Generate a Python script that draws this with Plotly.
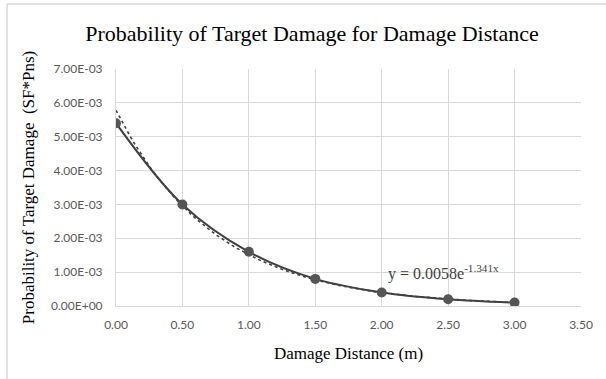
import numpy as np
import plotly.graph_objects as go

distance = [0.0, 0.5, 1.0, 1.5, 2.0, 2.5, 3.0]
probability = [5.4e-3, 3.0e-3, 1.6e-3, 8.0e-4, 4.0e-4, 2.0e-4, 1.0e-4]

y_tickvals = [0, 1e-3, 2e-3, 3e-3, 4e-3, 5e-3, 6e-3, 7e-3]
y_ticktext = ["0.00E+00", "1.00E-03", "2.00E-03", "3.00E-03", "4.00E-03",
              "5.00E-03", "6.00E-03", "7.00E-03"]
x_tickvals = [0, 0.5, 1.0, 1.5, 2.0, 2.5, 3.0, 3.5]
x_ticktext = ["0.00", "0.50", "1.00", "1.50", "2.00", "2.50", "3.00", "3.50"]

# exponential trendline fitted to the data (Excel-style)
slope, intercept = np.polyfit(distance, np.log(probability), 1)
trend_x = np.linspace(min(distance), max(distance), 80)
trend_y = np.exp(intercept) * np.exp(slope * trend_x)

W, H = 606, 379
L, R, T, B = 116, 25, 69, 73
pw, ph = W - L - R, H - T - B

def px(x):
    return (x - L) / pw

def py(y):
    return (H - B - y) / ph

fig = go.Figure()
fig.add_trace(go.Scatter(x=trend_x, y=trend_y, mode="lines",
                         line=dict(color="#404040", width=1.6, dash="dot"),
                         showlegend=False, hoverinfo="skip"))
fig.add_trace(go.Scatter(x=distance, y=probability, mode="lines+markers",
                         line=dict(color="#404040", width=2, shape="spline"),
                         marker=dict(color="#555555", size=10),
                         showlegend=False))

fig.add_annotation(x=2.03, y=0.00098, xref="x", yref="y", xanchor="left",
                   yanchor="middle", showarrow=False,
                   text="y = 0.0058e<sup>-1.341x</sup>",
                   font=dict(family="Liberation Serif", size=16, color="#404040"))

fig.update_layout(
    width=W, height=H,
    margin=dict(l=L, r=R, t=T, b=B, autoexpand=False),
    paper_bgcolor="white", plot_bgcolor="white",
    title=dict(text="Probability of Target Damage for Damage Distance",
               xref="container", x=312 / W, xanchor="center",
               yref="container", y=1 - 33 / H, yanchor="middle",
               font=dict(family="Liberation Serif", size=22, color="#000000")),
    shapes=[
        dict(type="line", xref="paper", yref="paper", x0=px(7), x1=px(7),
             y0=py(4), y1=py(379), line=dict(color="#d9d9d9", width=1.5)),
        dict(type="line", xref="paper", yref="paper", x0=px(7), x1=px(606),
             y0=py(4), y1=py(4), line=dict(color="#d9d9d9", width=1.5)),
    ],
)
fig.update_xaxes(range=[0, 3.5], tickvals=x_tickvals, ticktext=x_ticktext,
                 automargin=False,
                 showgrid=True, gridcolor="#d9d9d9", gridwidth=1,
                 showline=True, linecolor="#d9d9d9", zeroline=False,
                 ticks="outside", ticklen=8, tickcolor="rgba(0,0,0,0)",
                 tickfont=dict(family="Lato", size=12, color="#595959"),
                 title=dict(text="Damage Distance (m)", standoff=15,
                            font=dict(family="Liberation Serif", size=17, color="#000000")))
fig.update_yaxes(range=[0, 0.007], tickvals=y_tickvals, ticktext=y_ticktext,
                 automargin=False,
                 showgrid=True, gridcolor="#d9d9d9", gridwidth=1,
                 showline=True, linecolor="#d9d9d9", zeroline=False,
                 ticks="outside", ticklen=10, tickcolor="rgba(0,0,0,0)",
                 tickfont=dict(family="Lato", size=12, color="#595959"),
                 title=dict(text="Probability of Target Damage  (SF*Pns)", standoff=12,
                            font=dict(family="Liberation Serif", size=17, color="#000000")))

fig.write_html("out.html", config={"displayModeBar": False},
               post_script="document.body.style.margin='0';document.body.style.padding='0';")
